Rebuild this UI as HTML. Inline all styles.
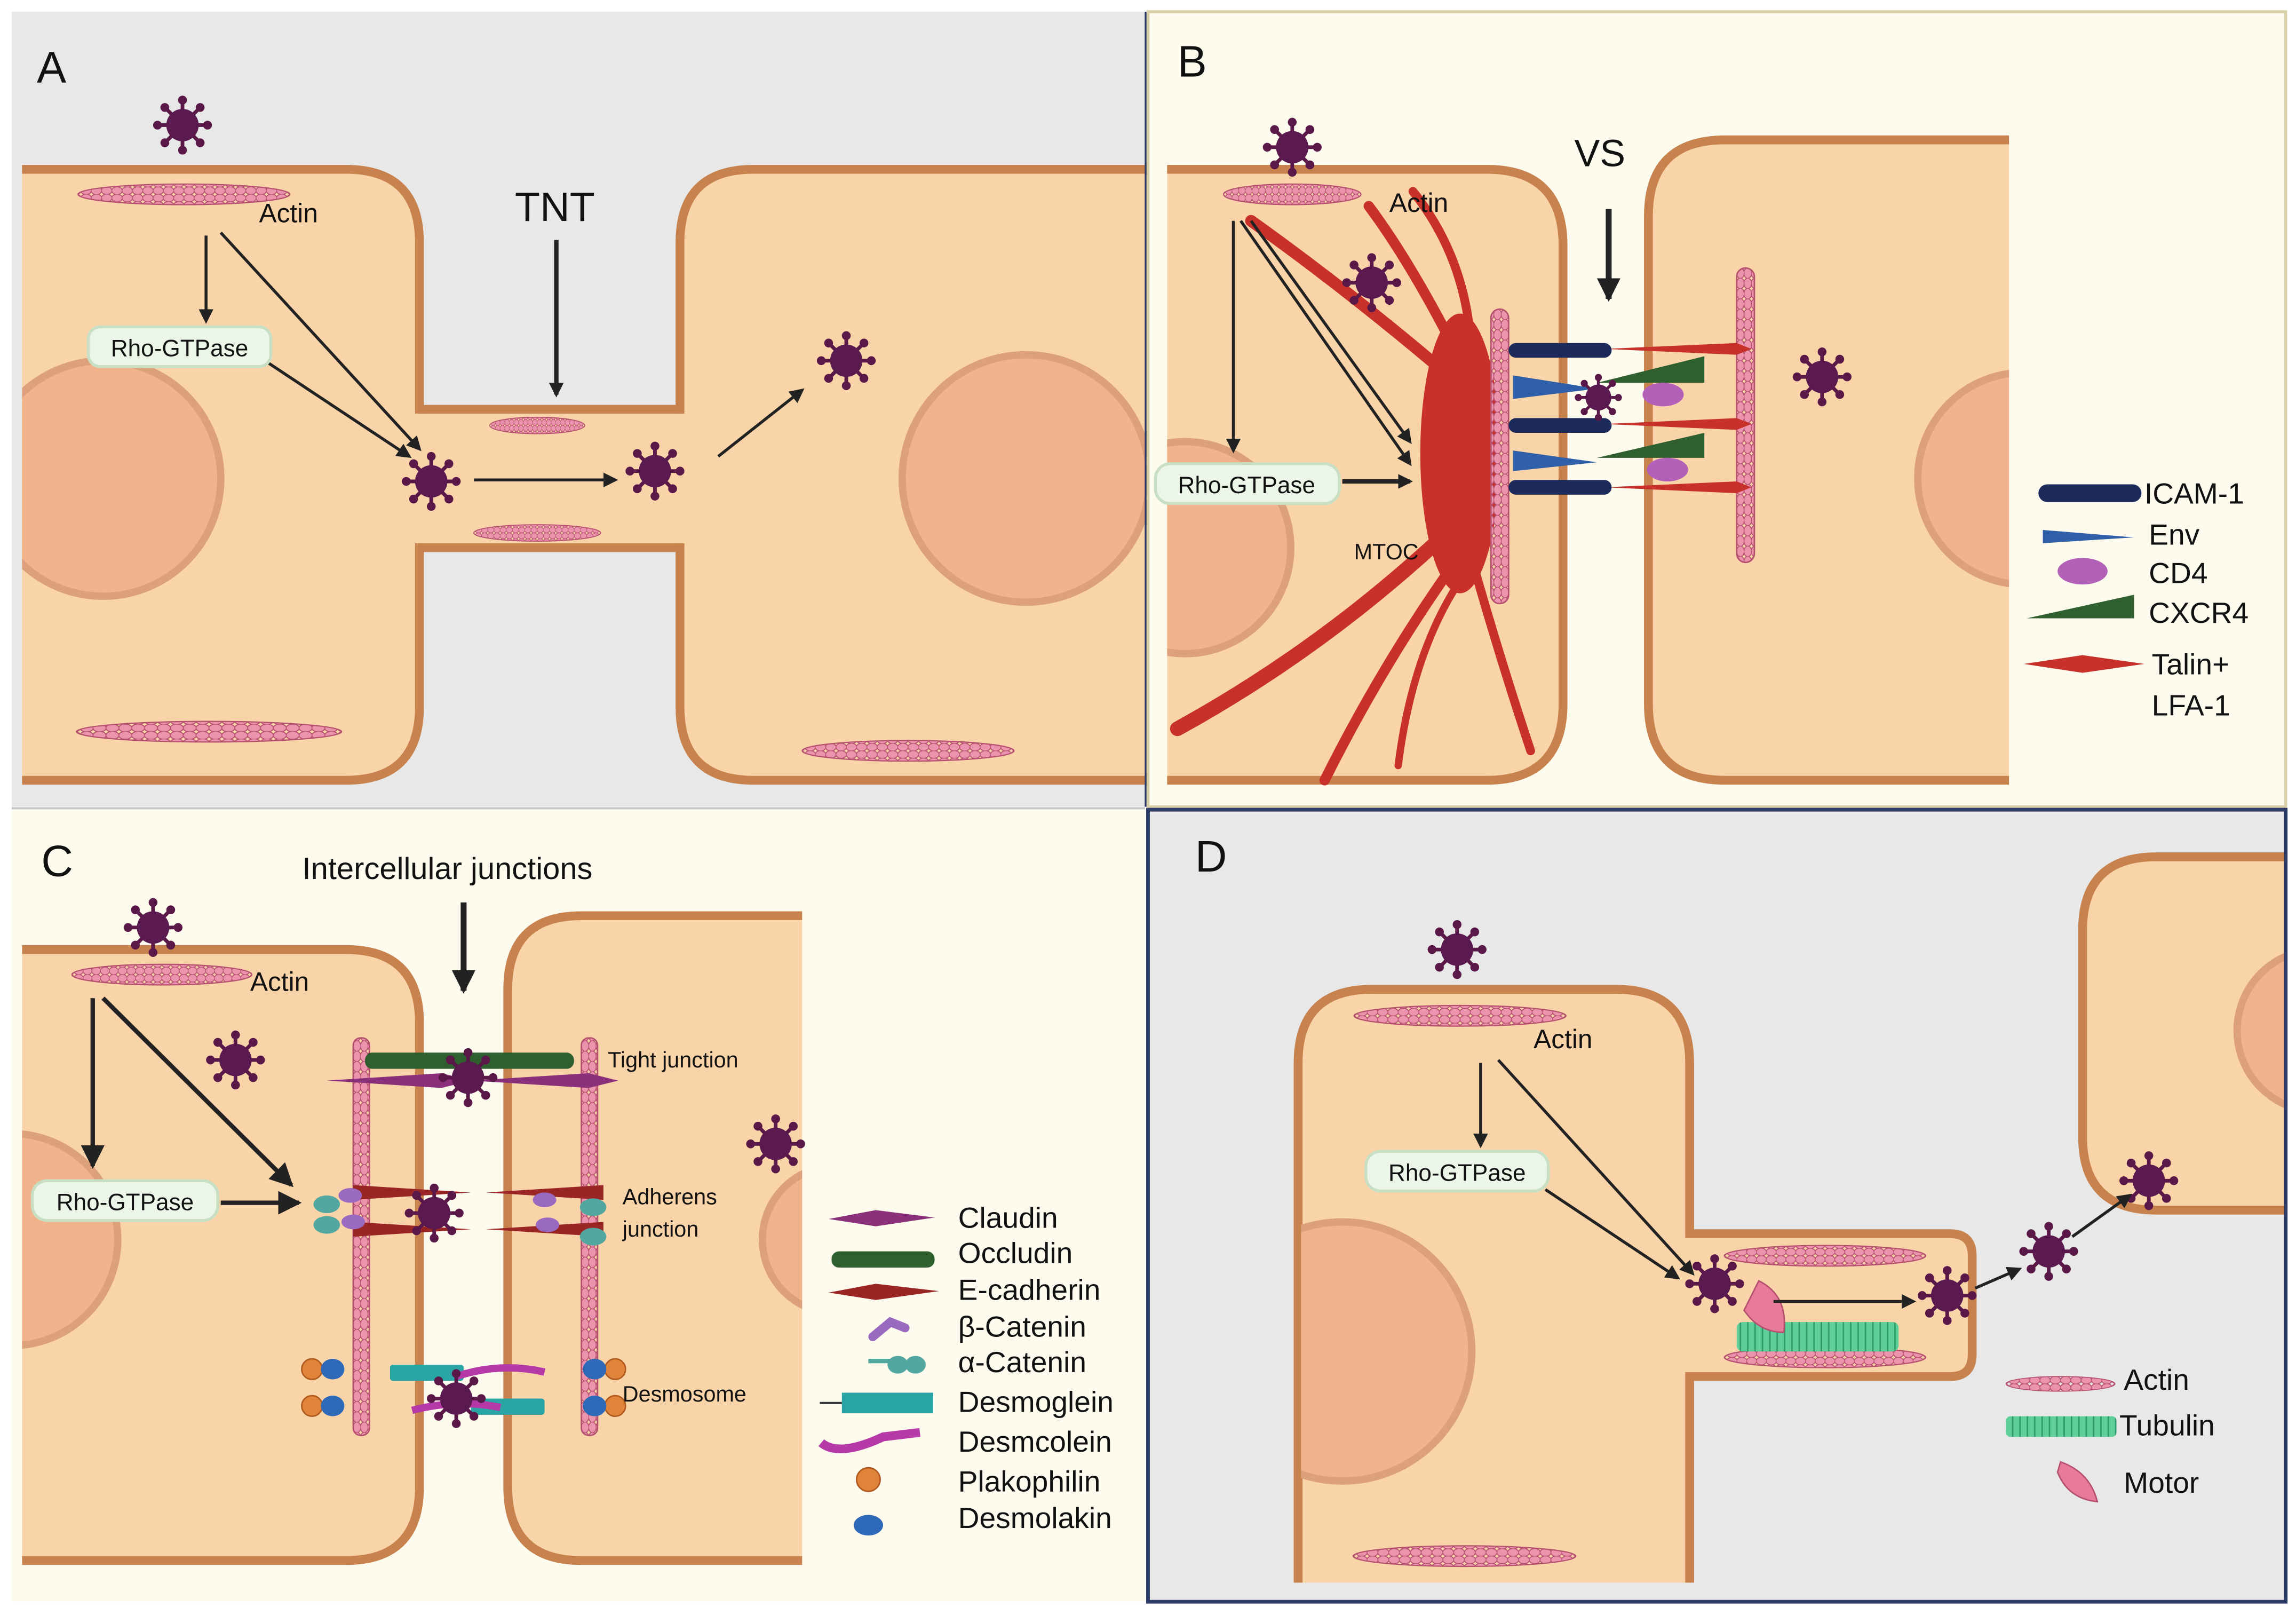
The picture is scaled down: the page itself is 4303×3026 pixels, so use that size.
<!DOCTYPE html>
<html><head><meta charset="utf-8"><style>html,body{margin:0;padding:0;background:#fff}svg{display:block}text{font-family:"Liberation Sans",sans-serif;fill:#111}</style></head><body>
<svg width="4303" height="3026" viewBox="0 0 1560 1097" preserveAspectRatio="none" xmlns="http://www.w3.org/2000/svg">
<defs>
<pattern id="ap" width="7" height="5" patternUnits="userSpaceOnUse"><ellipse cx="3.5" cy="2.5" rx="3.6" ry="2.6" fill="#ec93ad" stroke="#b5506f" stroke-width="0.6"/></pattern>
<pattern id="apv" width="5" height="7" patternUnits="userSpaceOnUse"><ellipse cx="2.5" cy="3.5" rx="2.6" ry="3.6" fill="#ec93ad" stroke="#b5506f" stroke-width="0.6"/></pattern>
<pattern id="tp" width="5" height="24" patternUnits="userSpaceOnUse"><rect width="5" height="24" fill="#5fcf9a"/><line x1="2.5" y1="0" x2="2.5" y2="24" stroke="#2f9a6a" stroke-width="1"/></pattern>
<g id="v"><g stroke="#5a1848" stroke-width="2.5"><line x1="-17" y1="0" x2="17" y2="0"/><line x1="0" y1="-17" x2="0" y2="17"/><line x1="-12" y1="-12" x2="12" y2="12"/><line x1="-12" y1="12" x2="12" y2="-12"/></g><g fill="#5a1848"><circle cx="17" cy="0" r="3"/><circle cx="-17" cy="0" r="3"/><circle cx="0" cy="17" r="3"/><circle cx="0" cy="-17" r="3"/><circle cx="12" cy="12" r="3"/><circle cx="-12" cy="12" r="3"/><circle cx="12" cy="-12" r="3"/><circle cx="-12" cy="-12" r="3"/></g><circle r="11" fill="#5b1a4f"/></g>
<g id="act"><ellipse cx="0" cy="0" rx="72" ry="7" fill="url(#ap)" stroke="#b5506f" stroke-width="0.8"/></g>
<marker id="ar" markerWidth="10" markerHeight="10" refX="8" refY="5" orient="auto" markerUnits="userSpaceOnUse"><path d="M0,0 L10,5 L0,10 z" fill="#222"/></marker>
<marker id="arb" markerWidth="16" markerHeight="16" refX="14" refY="8" orient="auto" markerUnits="userSpaceOnUse"><path d="M0,0 L16,8 L0,16 z" fill="#222"/></marker>
<clipPath id="cA"><rect x="8" y="8" width="770" height="540"/></clipPath>
<clipPath id="cB"><rect x="780" y="8" width="773" height="540"/></clipPath>
<clipPath id="cC"><rect x="8" y="550" width="770" height="538"/></clipPath>
<clipPath id="cD"><rect x="780" y="550" width="773" height="538"/></clipPath>
<clipPath id="nA"><rect x="15" y="100" width="300" height="440"/></clipPath>
<clipPath id="nB1"><rect x="793" y="100" width="300" height="440"/></clipPath>
<clipPath id="nB2"><rect x="1100" y="90" width="265" height="440"/></clipPath>
<clipPath id="nC1"><rect x="15" y="640" width="300" height="430"/></clipPath>
<clipPath id="nC2"><rect x="340" y="620" width="205" height="440"/></clipPath>
<clipPath id="nD1"><rect x="884" y="670" width="300" height="410"/></clipPath>
<clipPath id="nD2"><rect x="1410" y="580" width="143" height="245"/></clipPath>
</defs>
<rect width="1560" height="1097" fill="#fff"/>
<!-- Panel A -->
<g clip-path="url(#cA)">
<rect x="8" y="8" width="770" height="540" fill="#e8e8e8"/>
<path d="M15,115 H235 Q285,115 285,165 V278 H462 V165 Q462,115 512,115 H790 V530 H512 Q462,530 462,480 V372 H285 V480 Q285,530 235,530 H15" fill="#f9d4a9" stroke="#c7824e" stroke-width="6"/>
<rect x="288" y="281" width="171" height="88" fill="#f9d4a9"/>
<circle cx="70" cy="325" r="80" fill="#f1b38c" stroke="#dca07a" stroke-width="5" clip-path="url(#nA)"/>
<ellipse cx="697" cy="325" rx="84" ry="84" fill="#f1b38c" stroke="#dca07a" stroke-width="5"/>
<use href="#act" transform="translate(125,132)"/>
<use href="#act" transform="translate(142,497) scale(1.25,1)"/>
<use href="#act" transform="translate(617,510)"/>
<use href="#act" transform="translate(365,289) scale(0.45,0.8)"/>
<use href="#act" transform="translate(365,362) scale(0.6,0.8)"/>
<use href="#v" transform="translate(124,85)"/>
<use href="#v" transform="translate(293,327)"/>
<use href="#v" transform="translate(445,320)"/>
<use href="#v" transform="translate(575,245)"/>
<g stroke="#222" stroke-width="2" fill="none" marker-end="url(#ar)">
<line x1="140" y1="160" x2="140" y2="218"/>
<line x1="150" y1="158" x2="285" y2="305"/>
<line x1="180" y1="245" x2="278" y2="310"/>
<line x1="322" y1="326" x2="418" y2="326"/>
<line x1="488" y1="310" x2="545" y2="265"/>
<line x1="378" y1="163" x2="378" y2="268" stroke-width="3"/>
</g>
<rect x="60" y="222" width="124" height="27" rx="8" fill="#ebf6e8" stroke="#c9dfc3" stroke-width="2"/>
<text x="122" y="242" font-size="16" text-anchor="middle">Rho-GTPase</text>
<text x="176" y="151" font-size="18">Actin</text>
<text x="377" y="150" font-size="28" text-anchor="middle">TNT</text>
<text x="25" y="56" font-size="30">A</text>
</g>
<!-- Panel B -->
<g clip-path="url(#cB)">
<rect x="780" y="8" width="773" height="540" fill="#fdfbee"/>
<path d="M793,115 H1010 Q1062,115 1062,167 V478 Q1062,530 1010,530 H793" fill="#f9d4a9" stroke="#c7824e" stroke-width="6"/>
<rect x="780" y="118" width="13" height="409" fill="#fdfbee"/>
<path d="M1365,95 H1172 Q1120,95 1120,147 V478 Q1120,530 1172,530 H1365" fill="#f9d4a9" stroke="#c7824e" stroke-width="6"/>
<circle cx="805" cy="372" r="72" fill="#f1b38c" stroke="#dca07a" stroke-width="5" clip-path="url(#nB1)"/>
<circle cx="1375" cy="325" r="72" fill="#f1b38c" stroke="#dca07a" stroke-width="5" clip-path="url(#nB2)"/>
<g fill="none" stroke="#c8302a" stroke-linecap="round">
<path d="M990,260 Q920,200 850,150" stroke-width="8"/>
<path d="M995,250 Q960,180 930,140" stroke-width="7"/>
<path d="M1000,250 Q1000,180 960,130" stroke-width="6"/>
<path d="M985,360 Q900,440 800,495" stroke-width="10"/>
<path d="M990,380 Q940,450 900,530" stroke-width="7"/>
<path d="M1000,380 Q1020,450 1040,510" stroke-width="6"/>
<path d="M995,390 Q960,440 950,520" stroke-width="5"/>
</g>
<ellipse cx="992" cy="308" rx="27" ry="95" fill="#c8302a"/>
<rect x="1013" y="210" width="12" height="200" rx="6" fill="url(#apv)" stroke="#b5506f"/>
<rect x="1180" y="182" width="12" height="200" rx="6" fill="url(#apv)" stroke="#b5506f"/>
<g fill="#c8302a"><path d="M1090,237 L1180,233 L1190,237 L1180,241 Z"/><path d="M1090,288 L1180,284 L1190,288 L1180,292 Z"/><path d="M1090,331 L1180,327 L1190,331 L1180,335 Z"/></g>
<g fill="#2f5e2f"><path d="M1085,260 L1158,242 L1158,260 Z"/><path d="M1085,311 L1158,294 L1158,311 Z"/></g>
<g fill="#1b2a5a"><rect x="1025" y="233" width="70" height="10" rx="5"/><rect x="1025" y="284" width="70" height="10" rx="5"/><rect x="1025" y="326" width="70" height="10" rx="5"/></g>
<g fill="#2f5fa8"><path d="M1028,255 L1085,264 L1028,271 Z"/><path d="M1028,306 L1085,314 L1028,320 Z"/></g>
<ellipse cx="1130" cy="268" rx="14" ry="8" fill="#b260b8"/><ellipse cx="1133" cy="319" rx="14" ry="8" fill="#b260b8"/>
<use href="#act" transform="translate(878,132) scale(0.65,1)"/>
<use href="#v" transform="translate(878,100)"/>
<use href="#v" transform="translate(932,192)"/>
<use href="#v" transform="translate(1086,270) scale(0.8)"/>
<use href="#v" transform="translate(1238,256)"/>
<g stroke="#222" stroke-width="2" fill="none" marker-end="url(#ar)">
<line x1="838" y1="150" x2="838" y2="306"/>
<line x1="843" y1="150" x2="958" y2="315"/>
<line x1="850" y1="150" x2="958" y2="300"/>
<line x1="912" y1="327" x2="958" y2="327" stroke-width="3"/>
<line x1="1093" y1="142" x2="1093" y2="203" stroke-width="4" marker-end="url(#arb)"/>
</g>
<rect x="785" y="315" width="125" height="27" rx="10" fill="#ebf6e8" stroke="#c9dfc3" stroke-width="2"/>
<text x="847" y="335" font-size="16" text-anchor="middle">Rho-GTPase</text>
<text x="944" y="144" font-size="18">Actin</text>
<text x="920" y="380" font-size="15">MTOC</text>
<text x="1087" y="113" font-size="26" text-anchor="middle">VS</text>
<text x="800" y="52" font-size="30">B</text>
<rect x="1385" y="329" width="70" height="12" rx="6" fill="#1b2a5a"/>
<path d="M1388,360 L1450,365 L1388,369 Z" fill="#2f5fa8"/>
<ellipse cx="1415" cy="388" rx="17" ry="9" fill="#b260b8"/>
<path d="M1377,420 L1450,404 L1450,420 Z" fill="#2f5e2f"/>
<path d="M1375,451 L1415,445 L1457,451 L1415,457 Z" fill="#c8302a"/>
<g font-size="20"><text x="1457" y="342">ICAM-1</text><text x="1460" y="370">Env</text><text x="1460" y="396">CD4</text><text x="1460" y="423">CXCR4</text><text x="1462" y="458">Talin+</text><text x="1462" y="486">LFA-1</text></g>
</g>
<!-- Panel C -->
<g clip-path="url(#cC)">
<rect x="8" y="550" width="770" height="538" fill="#fdfbee"/>
<path d="M15,645 H235 Q285,645 285,695 V1010 Q285,1060 235,1060 H15" fill="#f9d4a9" stroke="#c7824e" stroke-width="6"/>
<path d="M545,622 H395 Q345,622 345,672 V1010 Q345,1060 395,1060 H545" fill="#f9d4a9" stroke="#c7824e" stroke-width="6"/>
<circle cx="8" cy="842" r="72" fill="#f1b38c" stroke="#dca07a" stroke-width="5" clip-path="url(#nC1)"/>
<circle cx="568" cy="842" r="50" fill="#f1b38c" stroke="#dca07a" stroke-width="5" clip-path="url(#nC2)"/>
<rect x="240" y="705" width="11" height="270" rx="5" fill="url(#apv)" stroke="#b5506f"/>
<rect x="395" y="705" width="11" height="270" rx="5" fill="url(#apv)" stroke="#b5506f"/>
<rect x="248" y="715" width="142" height="11" rx="5" fill="#2f5e2f"/>
<path d="M222,734 L300,729 L320,734 L300,739 Z M320,734 L400,729 L420,734 L400,739 Z" fill="#8a2f7a"/>
<path d="M240,805 L320,810 L240,815 Z M410,805 L330,810 L410,815 Z M240,830 L320,835 L240,840 Z M410,830 L330,835 L410,840 Z" fill="#9a2525"/>
<g fill="#52a8a0"><ellipse cx="222" cy="818" rx="9" ry="6"/><ellipse cx="222" cy="832" rx="9" ry="6"/><ellipse cx="403" cy="820" rx="9" ry="6"/><ellipse cx="403" cy="840" rx="9" ry="6"/></g>
<g fill="#9a6ac0"><ellipse cx="238" cy="812" rx="8" ry="5"/><ellipse cx="370" cy="815" rx="8" ry="5"/><ellipse cx="240" cy="830" rx="8" ry="5"/><ellipse cx="372" cy="832" rx="8" ry="5"/></g>
<g fill="#2aa5a5"><rect x="265" y="927" width="50" height="11" rx="2"/><rect x="320" y="950" width="50" height="11" rx="2"/></g>
<path d="M310,935 Q340,925 370,932 M280,958 Q310,950 340,956" stroke="#b53aa8" stroke-width="5" fill="none"/>
<g fill="#e0843a" stroke="#b05a1f"><circle cx="212" cy="930" r="7"/><circle cx="212" cy="955" r="7"/><circle cx="418" cy="930" r="7"/><circle cx="418" cy="955" r="7"/></g>
<g fill="#2f6ab8"><ellipse cx="226" cy="930" rx="8" ry="7"/><ellipse cx="226" cy="955" rx="8" ry="7"/><ellipse cx="404" cy="930" rx="8" ry="7"/><ellipse cx="404" cy="955" rx="8" ry="7"/></g>
<use href="#act" transform="translate(110,662) scale(0.85,1)"/>
<use href="#v" transform="translate(104,630)"/>
<use href="#v" transform="translate(160,720)"/>
<use href="#v" transform="translate(318,732)"/>
<use href="#v" transform="translate(295,824)"/>
<use href="#v" transform="translate(310,950)"/>
<use href="#v" transform="translate(527,777)"/>
<g stroke="#222" stroke-width="3" fill="none">
<line x1="63" y1="678" x2="63" y2="792" marker-end="url(#arb)"/>
<line x1="70" y1="678" x2="198" y2="805" marker-end="url(#arb)"/>
<line x1="150" y1="817" x2="203" y2="817" marker-end="url(#arb)"/>
<line x1="315" y1="613" x2="315" y2="673" stroke-width="4" marker-end="url(#arb)"/>
</g>
<rect x="22" y="802" width="126" height="27" rx="10" fill="#ebf6e8" stroke="#c9dfc3" stroke-width="2"/>
<text x="85" y="822" font-size="16" text-anchor="middle">Rho-GTPase</text>
<text x="170" y="673" font-size="18">Actin</text>
<text x="304" y="597" font-size="21" text-anchor="middle">Intercellular junctions</text>
<g font-family="Liberation Serif, serif" font-size="15"><text x="413" y="725">Tight junction</text><text x="423" y="818">Adherens</text><text x="423" y="840">junction</text><text x="423" y="952">Desmosome</text></g>
<text x="28" y="595" font-size="30">C</text>
<path d="M563,828 L595,822 L635,827 L595,833 Z" fill="#8a2f7a"/>
<rect x="565" y="850" width="70" height="11" rx="5" fill="#2f5e2f"/>
<path d="M563,878 L595,872 L638,877 L595,883 Z" fill="#9a2525"/>
<path d="M593,908 L605,898 L615,902" stroke="#9a6ac0" stroke-width="6" fill="none" stroke-linecap="round"/>
<g fill="#52a8a0"><ellipse cx="610" cy="927" rx="7" ry="6"/><ellipse cx="622" cy="927" rx="7" ry="6"/><rect x="590" y="923" width="18" height="3"/></g>
<line x1="557" y1="953" x2="572" y2="953" stroke="#333" stroke-width="1.5"/><rect x="572" y="946" width="62" height="14" fill="#2aa5a5"/>
<path d="M558,980 Q570,990 600,976 L625,973" stroke="#b53aa8" stroke-width="6" fill="none"/>
<circle cx="590" cy="1005" r="8" fill="#e0843a" stroke="#b05a1f"/>
<ellipse cx="590" cy="1036" rx="10" ry="7" fill="#2f6ab8"/>
<g font-size="20"><text x="651" y="834">Claudin</text><text x="651" y="858">Occludin</text><text x="651" y="883">E-cadherin</text><text x="651" y="908">β-Catenin</text><text x="651" y="932">α-Catenin</text><text x="651" y="959">Desmoglein</text><text x="651" y="986">Desmcolein</text><text x="651" y="1013">Plakophilin</text><text x="651" y="1038">Desmolakin</text></g>
</g>
<!-- Panel D -->
<g clip-path="url(#cD)">
<rect x="780" y="550" width="773" height="538" fill="#e8e8e8"/>
<path d="M882,1075 V722 Q882,672 932,672 H1098 Q1148,672 1148,722 V838 H1325 Q1340,838 1340,853 V920 Q1340,935 1325,935 H1148 V1075" fill="#f9d4a9" stroke="#c7824e" stroke-width="6"/>
<path d="M1570,582 H1465 Q1415,582 1415,632 V772 Q1415,822 1465,822 H1570" fill="#f9d4a9" stroke="#c7824e" stroke-width="6"/>
<circle cx="912" cy="918" r="88" fill="#f1b38c" stroke="#dca07a" stroke-width="5" clip-path="url(#nD1)"/>
<circle cx="1575" cy="700" r="55" fill="#f1b38c" stroke="#dca07a" stroke-width="5" clip-path="url(#nD2)"/>
<use href="#act" transform="translate(992,690)"/>
<use href="#act" transform="translate(995,1057) scale(1.05,1)"/>
<use href="#act" transform="translate(1240,853) scale(0.95,1)"/>
<use href="#act" transform="translate(1240,922) scale(0.95,1)"/>
<rect x="1180" y="898" width="110" height="20" rx="4" fill="url(#tp)"/>
<path d="M1195,870 Q1215,880 1212,905 Q1195,905 1185,890 Z" fill="#e87a9a" stroke="#b5506f"/>
<use href="#v" transform="translate(990,645)"/>
<use href="#v" transform="translate(1165,872)"/>
<use href="#v" transform="translate(1323,880)"/>
<use href="#v" transform="translate(1392,850)"/>
<use href="#v" transform="translate(1460,802)"/>
<g stroke="#222" stroke-width="2" fill="none" marker-end="url(#ar)">
<line x1="1006" y1="722" x2="1006" y2="778"/>
<line x1="1018" y1="720" x2="1150" y2="865"/>
<line x1="1050" y1="808" x2="1140" y2="868"/>
<line x1="1205" y1="884" x2="1300" y2="884"/>
<line x1="1342" y1="875" x2="1372" y2="862"/>
<line x1="1408" y1="840" x2="1447" y2="812"/>
</g>
<rect x="928" y="782" width="124" height="27" rx="10" fill="#ebf6e8" stroke="#c9dfc3" stroke-width="2"/>
<text x="990" y="802" font-size="16" text-anchor="middle">Rho-GTPase</text>
<text x="1042" y="712" font-size="18">Actin</text>
<text x="812" y="592" font-size="30">D</text>
<ellipse cx="1400" cy="940" rx="37" ry="5" fill="url(#ap)" stroke="#b5506f" stroke-width="0.6"/>
<rect x="1363" y="962" width="75" height="14" rx="3" fill="url(#tp)"/>
<path d="M1400,993 Q1420,1000 1425,1020 Q1405,1018 1398,1000 Z" fill="#e87a9a" stroke="#b5506f"/>
<g font-size="20"><text x="1443" y="944">Actin</text><text x="1440" y="975">Tubulin</text><text x="1443" y="1014">Motor</text></g>
</g>
<!-- borders -->
<line x1="779" y1="8" x2="779" y2="548" stroke="#2c3a66" stroke-width="2.5"/>
<rect x="780" y="8" width="773" height="540" fill="none" stroke="#d8cfa8" stroke-width="2"/>
<rect x="780" y="550" width="773" height="538" fill="none" stroke="#2c3a66" stroke-width="2.5"/>
<line x1="8" y1="549" x2="778" y2="549" stroke="#c8c8c8" stroke-width="1.5"/>
</svg>
</body></html>
